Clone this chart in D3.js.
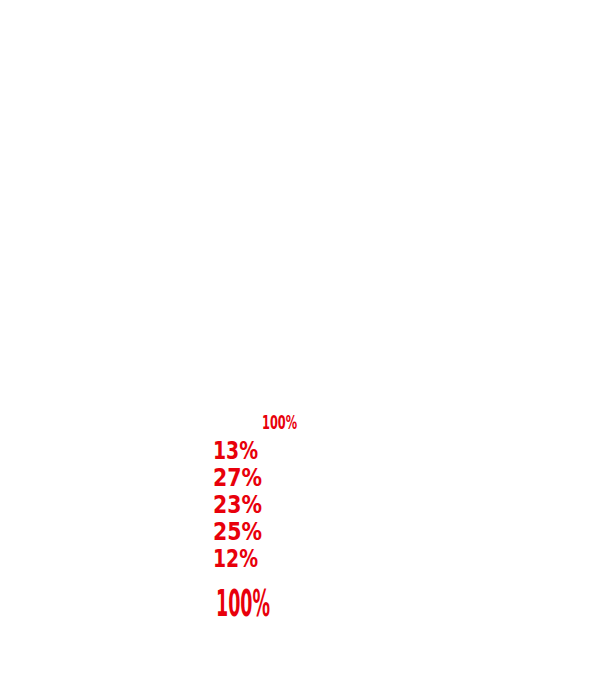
<!DOCTYPE html>
<html>
<head>
<meta charset="utf-8">
<script src="https://cdn.jsdelivr.net/npm/d3@7"></script>
<style>
    body { margin: 0; background: #fff; }
    svg { display: block; }
    .label { fill: #e8000b; font-family: "DejaVu Sans Condensed", "Liberation Sans", sans-serif; font-weight: bold; }
</style>
</head>
<body>
<svg id="canvas" width="605" height="680"></svg>
<script>
/** Chart data */
const categories = ['A', 'B', 'C', 'D', 'E'];
const shares = [13, 27, 23, 25, 12];
const totalLabel = '100%';

let canvas = d3.select('#canvas');

/** Slices are white on white, so only their labels show */
const drawChart = () => {
    let total = d3.sum(shares);

    /** Vertical position of each share label */
    let yScale = d3.scaleBand()
        .domain(categories)
        .range([436, 571])
        .paddingInner(0);

    /** Small total on top */
    canvas.append('text')
        .attr('class', 'label')
        .attr('x', 262)
        .attr('y', 429)
        .attr('font-size', 19)
        .attr('textLength', 35)
        .attr('lengthAdjust', 'spacingAndGlyphs')
        .text(`${total}%`);

    /** Share labels */
    canvas.selectAll('.share')
        .data(categories)
        .enter()
        .append('text')
        .attr('class', 'label share')
        .attr('x', 213)
        .attr('y', (cat) => {
            return yScale(cat) + yScale.bandwidth() / 2 + 9;
        })
        .attr('font-size', 24)
        .attr('textLength', (cat, i) => {
            return shares[i] < 20 ? 45 : 49;
        })
        .attr('lengthAdjust', 'spacingAndGlyphs')
        .text((cat, i) => {
            return `${shares[i]}%`;
        });

    /** Big total at the bottom */
    canvas.append('text')
        .attr('class', 'label')
        .attr('x', 216)
        .attr('y', 616)
        .attr('font-size', 38)
        .attr('textLength', 54)
        .attr('lengthAdjust', 'spacingAndGlyphs')
        .text(totalLabel);
};

drawChart();
</script>
</body>
</html>
